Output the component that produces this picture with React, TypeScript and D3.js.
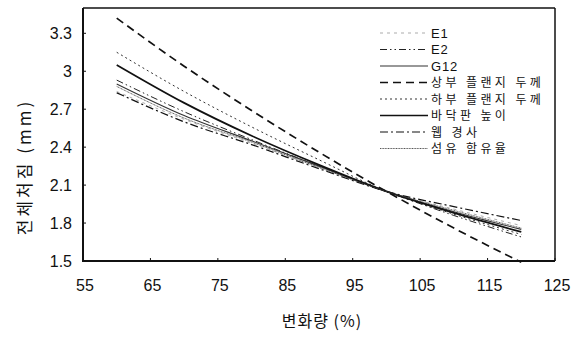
import React from 'react';
import * as d3 from 'd3';

// 변화량 (%)
const changes = [60, 70, 80, 90, 100, 110, 120];

const e1 = [2.84, 2.62, 2.43, 2.24, 2.05, 1.91, 1.78];
const e2 = [2.93, 2.68, 2.46, 2.25, 2.05, 1.86, 1.69];
const g12 = [2.9, 2.65, 2.45, 2.25, 2.05, 1.89, 1.75];
const upperFlange = [3.42, 3.04, 2.69, 2.36, 2.05, 1.76, 1.49];
const lowerFlange = [3.15, 2.84, 2.56, 2.3, 2.05, 1.87, 1.71];
const deckHeight = [3.05, 2.75, 2.49, 2.26, 2.05, 1.88, 1.73];
const webSlope = [2.83, 2.6, 2.42, 2.23, 2.05, 1.93, 1.82];
const fiberContent = [2.88, 2.63, 2.44, 2.24, 2.05, 1.9, 1.76];

const seriesNames = ['E1', 'E2', 'G12', '상부 플랜지 두께', '하부 플랜지 두께', '바닥판 높이', '웹 경사', '섬유 함유율'];
const seriesValues = [e1, e2, g12, upperFlange, lowerFlange, deckHeight, webSlope, fiberContent];

const xTicks = [55, 65, 75, 85, 95, 105, 115, 125];
const yTicks = [1.5, 1.8, 2.1, 2.4, 2.7, 3, 3.3];

const styles = [
  { dash: '3,4', width: 0.7, color: '#888' },
  { dash: '7,3,1.5,3,1.5,3', width: 1, color: '#222' },
  { dash: null, width: 1.1, color: '#333' },
  { dash: '8,5', width: 1.7, color: '#111' },
  { dash: '2,3', width: 1, color: '#333' },
  { dash: null, width: 1.7, color: '#111' },
  { dash: '8,3,2,3', width: 1.2, color: '#111' },
  { dash: '1,0.6', width: 0.9, color: '#444' },
];

const W = 579;
const H = 338;
const plot = { left: 83, right: 555, top: 8, bottom: 261 };

export default function App() {
  const x = d3.scaleLinear().domain([55, 125]).range([plot.left, plot.right]);
  const y = d3.scaleLinear().domain([1.5, 3.5]).range([plot.bottom, plot.top]);

  const line = d3
    .line<[number, number]>()
    .x(d => x(d[0]))
    .y(d => y(d[1]))
    .curve(d3.curveMonotoneX);

  const font = '"Liberation Sans", Arial, sans-serif';
  const kfont = '"Noto Sans CJK KR", "Liberation Sans", sans-serif';

  return (
    <svg width={W} height={H} style={{ position: 'absolute', left: 0, top: 0, background: '#fff' }}>
      {seriesValues.map((vals, i) => (
        <path
          key={seriesNames[i]}
          d={line(changes.map((c, j) => [c, vals[j]] as [number, number])) || ''}
          fill="none"
          stroke={styles[i].color}
          strokeWidth={styles[i].width}
          strokeDasharray={styles[i].dash || undefined}
        />
      ))}

      {/* frame */}
      <line x1={plot.left} x2={plot.right} y1={plot.top} y2={plot.top} stroke="#111" strokeWidth={1.5} />
      <line x1={plot.right} x2={plot.right} y1={plot.top} y2={plot.bottom} stroke="#111" strokeWidth={1.5} />
      <line x1={plot.left} x2={plot.left} y1={plot.top} y2={plot.bottom + 1} stroke="#111" strokeWidth={2} />
      <line x1={plot.left} x2={plot.right} y1={plot.bottom} y2={plot.bottom} stroke="#111" strokeWidth={2} />

      {yTicks.map(t => (
        <g key={t}>
          <line x1={plot.left} x2={plot.left + 3} y1={y(t)} y2={y(t)} stroke="#111" />
          <text x={72} y={y(t) + 5.5} textAnchor="end" fontFamily={font} fontSize={16} fill="#111">
            {t}
          </text>
        </g>
      ))}

      {xTicks.map(t => (
        <g key={t}>
          <line x1={x(t)} x2={x(t)} y1={plot.bottom} y2={plot.bottom - 3} stroke="#111" />
          <text x={x(t) + 2} y={291} textAnchor="middle" fontFamily={font} fontSize={16} fill="#111">
            {t}
          </text>
        </g>
      ))}

      <text x={322} y={327} textAnchor="middle" fontFamily={kfont} fontSize={16} letterSpacing={1} fill="#111">
        변화량 (%)
      </text>
      <text
        transform={`translate(31,167) rotate(-90)`}
        textAnchor="middle"
        fontFamily={kfont}
        fontSize={17}
        letterSpacing={3}
        fill="#111"
      >
        전체처짐 (mm)
      </text>

      {/* legend */}
      {seriesNames.map((name, i) => {
        const ly = 33 + i * 16.5;
        const korean = /[가-힣]/.test(name);
        return (
          <g key={name}>
            <line
              x1={380}
              x2={428}
              y1={ly}
              y2={ly}
              stroke={styles[i].color}
              strokeWidth={styles[i].width}
              strokeDasharray={styles[i].dash || undefined}
            />
            <text
              x={431}
              y={ly + 4.5}
              fontFamily={korean ? kfont : font}
              fontSize={korean ? 12 : 13}
              letterSpacing={korean ? 3.4 : 0.8}
              fill="#111"
            >
              {name}
            </text>
          </g>
        );
      })}
    </svg>
  );
}
